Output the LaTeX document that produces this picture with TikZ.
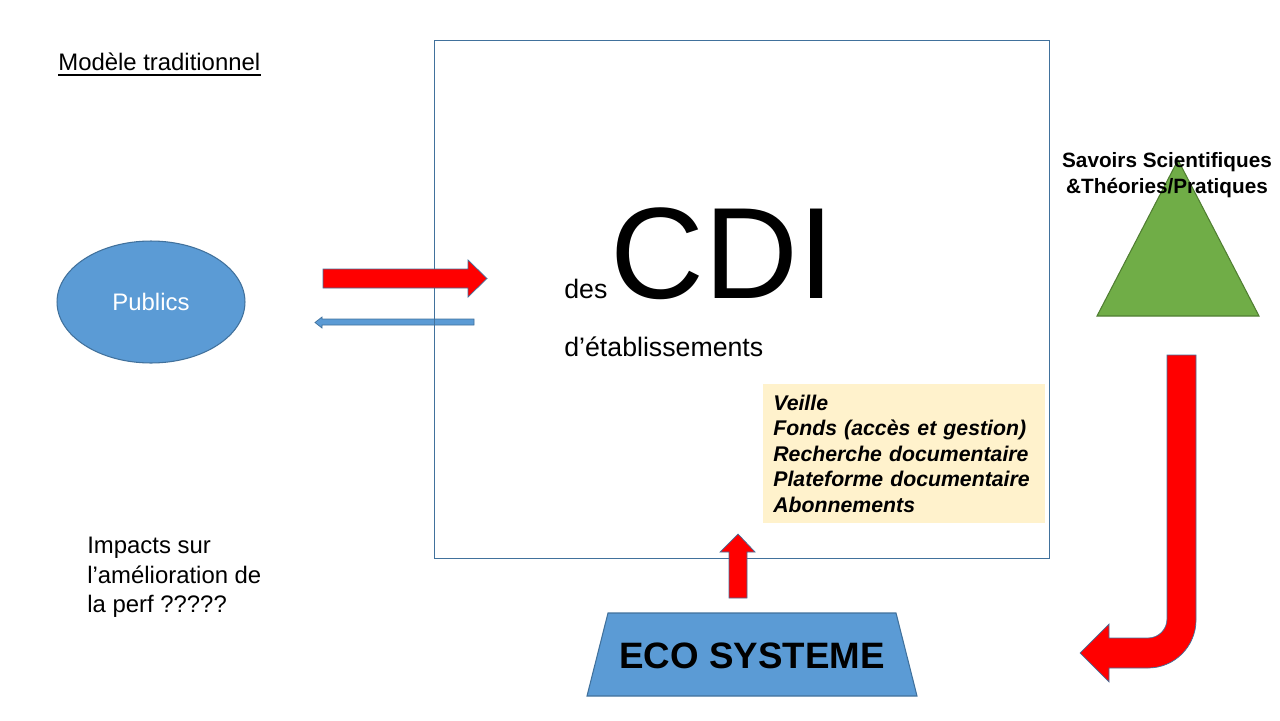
\documentclass[tikz,border=0pt]{standalone}
\usepackage{fontspec}
\setmainfont{Liberation Sans}
\usepackage{xcolor}
\usetikzlibrary{shapes.geometric}
\definecolor{publicsblue}{HTML}{5B9BD5}
\definecolor{outlineblue}{HTML}{41719C}
\definecolor{veillecream}{HTML}{FFF2CC}
\definecolor{savoirsgreen}{HTML}{70AD47}
\definecolor{savoirsedge}{HTML}{507E32}

\begin{document}
\begin{tikzpicture}[x=0.02cm,y=-0.02cm,
    fatarrow/.style={fill=red,draw=outlineblue,line width=0.4pt},
    plain/.style={inner sep=0pt,font=\fontsize{13.6}{16.7}\selectfont}]
    \useasboundingbox (0,0) rectangle (1280,720);
    \node [plain,anchor=base west] (titre) at (58,70) {Modèle traditionnel};
    \draw [line width=0.8pt]([yshift=-2.8pt]titre.base west)--([yshift=-2.8pt]titre.base east);
    \node [ellipse,fill=publicsblue,draw=outlineblue,line width=0.6pt,minimum width=3.76cm,minimum height=2.44cm,text=white,font=\fontsize{13.6}{16.7}\selectfont] (publics) at (151,302) {Publics};
    \draw [fill=publicsblue,draw=outlineblue,line width=0.4pt] (474,319)--(322,319)--(322,317)--(315,322.5)--(322,328)--(322,325)--(474,325)--cycle;
    \draw [outlineblue,line width=0.5pt] (434,40) rectangle (1049,558);
    \draw [fatarrow] (323,269)--(468,269)--(468,260)--(487,278.5)--(468,297)--(468,288)--(323,288)--cycle;
    \node [plain,anchor=base west,font=\fontsize{15.2}{18}\selectfont] (des) at (564,298) {des};
    \node [plain,anchor=base west,font=\fontsize{74}{74}\selectfont] (cdi) at (610,298) {CDI};
    \node [plain,anchor=base west,font=\fontsize{15.2}{18}\selectfont] (etab) at (564,356) {d’établissements};
    \node [fill=veillecream,anchor=north west,inner xsep=0.2cm,inner ysep=0pt,text width=5.24cm,minimum height=2.78cm,align=left,font=\bfseries\itshape\fontsize{12.1}{14.5}\selectfont] (veille) at (763,384) {Veille\\Fonds (accès et gestion)\\Recherche documentaire\\Plateforme documentaire\\Abonnements};
    \draw [fatarrow] (729,598)--(729,552)--(720,552)--(738,534)--(755,552)--(747,552)--(747,598)--cycle;
    \draw [fill=publicsblue,draw=outlineblue,line width=0.6pt] (608,613)--(896,613)--(917,696)--(587,696)--cycle;
    \node [font=\bfseries\fontsize{20.9}{25}\selectfont] (eco) at (752,656) {ECO SYSTEME};
    \draw [fill=savoirsgreen,draw=savoirsedge,line width=0.6pt] (1178,160)--(1259,316)--(1097,316)--cycle;
    \node [plain,anchor=north,align=center,font=\bfseries\fontsize{11.8}{14.7}\selectfont] (savoirs) at (1167,152) {Savoirs Scientifiques\\\&Théories/Pratiques};
    \draw [fatarrow] (1167,355)--(1196,355)--(1196,620) .. controls (1196,646.5) and (1174.5,668) .. (1148,668)--(1109,668)--(1109,682)--(1080,653)--(1109,624)--(1109,638)--(1148,638) .. controls (1158.5,638) and (1167,629.5) .. (1167,619)--cycle;
    \node [plain,anchor=north west,align=left] (impacts) at (87,537) {Impacts sur\\l’amélioration de\\la perf ?????};
\end{tikzpicture}
\end{document}
